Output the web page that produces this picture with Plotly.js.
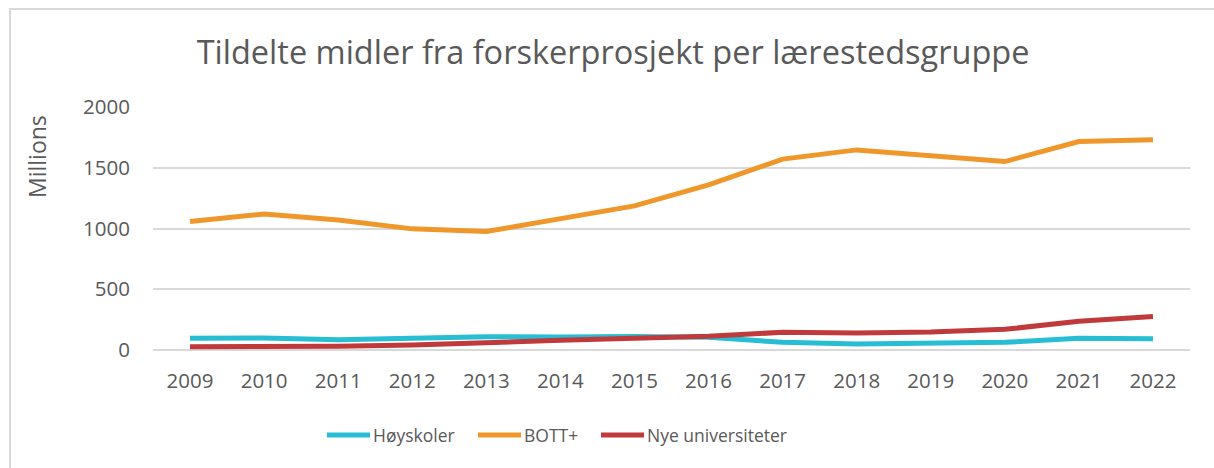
<!DOCTYPE html>
<html>
<head>
<meta charset="utf-8">
<script src="https://cdn.plot.ly/plotly-3.0.1.min.js"></script>
<style>
html,body{margin:0;padding:0;background:#fff;}
#frame{position:absolute;left:9px;top:8px;width:1220px;height:480px;border:2px solid #d9d9d9;box-sizing:border-box;pointer-events:none;z-index:5;}
#chart{position:absolute;left:0;top:0;width:1214px;height:468px;}
</style>
</head>
<body>
<div id="chart"></div>
<div id="frame"></div>
<script>
const years = ['2009','2010','2011','2012','2013','2014','2015','2016','2017','2018','2019','2020','2021','2022'];
const hoyskoler = [96, 98, 84, 95, 110, 108, 112, 105, 63, 49, 57, 63, 96, 92];
const bott = [1057, 1120, 1070, 997, 975, 1080, 1186, 1359, 1571, 1647, 1600, 1551, 1716, 1730];
const nye = [27, 28, 30, 41, 63, 80, 96, 113, 146, 140, 148, 170, 236, 275];
const names = ['Høyskoler', 'BOTT+', 'Nye universiteter'];
const colors = ['#27bdd2', '#f0972b', '#c0393b'];
const titleText = 'Tildelte midler fra forskerprosjekt per lærestedsgruppe';
const yTicks = [0, 500, 1000, 1500, 2000];

const font = "Open Sans, sans-serif";
const traces = [hoyskoler, bott, nye].map((vals, i) => ({
  type: 'scatter', mode: 'lines', x: years, y: vals, name: names[i],
  line: {color: colors[i], width: 5, shape: 'linear'},
  cliponaxis: false, showlegend: false
}));

// plot area geometry (pixels)
const L = 153, T = 107, W = 1037, H = 243;
const px = x => (x - L) / W;
const py = y => (T + H - y) / H;

// custom legend: sample line start x, text start x
const legSample = [327, 478, 601];
const legY = 435;
const shapes = names.map((n, i) => ({
  type: 'line', xref: 'paper', yref: 'paper', layer: 'above',
  x0: px(legSample[i]), x1: px(legSample[i] + 43), y0: py(legY), y1: py(legY),
  line: {color: colors[i], width: 5}
}));
const annotations = names.map((n, i) => ({
  text: n, xref: 'paper', yref: 'paper', x: px(legSample[i] + 44), y: py(legY),
  xanchor: 'left', yanchor: 'middle', showarrow: false,
  font: {size: 17.5, color: '#595959'}
}));
annotations.push({text: 'Millions', xref: 'paper', yref: 'paper', x: px(37), y: py(157),
  textangle: -90, showarrow: false, xanchor: 'center', yanchor: 'middle',
  font: {size: 23, color: '#595959'}});

const layout = {
  width: 1214, height: 468,
  margin: {l: L, r: 1214 - L - W, t: T, b: 468 - T - H},
  paper_bgcolor: '#fff', plot_bgcolor: '#fff',
  font: {family: font, color: '#595959', size: 20},
  title: {text: titleText, font: {family: font, size: 32.5, color: '#595959'},
    x: 0.505, xanchor: 'center', xref: 'container', y: 1 - 53/468, yanchor: 'middle', yref: 'container'},
  xaxis: {type: 'category', range: [-0.5, 13.5], showgrid: false, zeroline: false,
    showline: false, ticks: '', tickfont: {size: 20.5, color: '#595959'}, ticklabelstandoff: 16},
  yaxis: {range: [0, 2000], tickvals: yTicks, ticktext: yTicks.map(String), showgrid: true,
    gridcolor: '#d9d9d9', gridwidth: 2, zeroline: true, zerolinecolor: '#d9d9d9', zerolinewidth: 2,
    showline: false, ticks: '', tickfont: {size: 20.5, color: '#595959'}, ticklabelstandoff: 22},
  showlegend: false,
  shapes: shapes,
  annotations: annotations
};
Plotly.newPlot('chart', traces, layout, {displayModeBar: false, staticPlot: true});
</script>
</body>
</html>
